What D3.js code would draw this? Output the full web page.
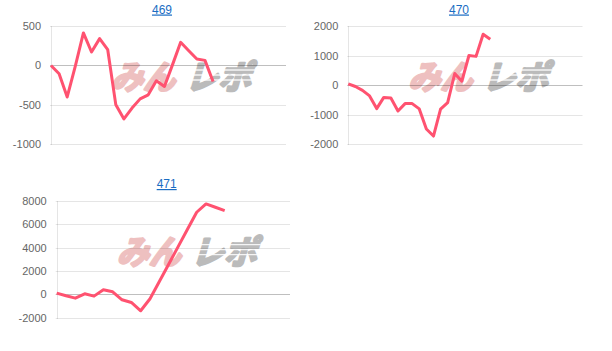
<!DOCTYPE html>
<html><head><meta charset="utf-8">
<script src="https://cdn.jsdelivr.net/npm/d3@7"></script>
<style>html,body{margin:0;padding:0;background:#fff;}svg{display:block;}</style>
</head><body>
<svg id="c" width="612" height="351"></svg>
<script>
// ---- data ----
const titles = ["469", "470", "471"];
const categoryCounts = [30, 34, 26];
const series469 = [0, -106, -400, -10, 412, 170, 340, 200, -500, -678, -540, -424, -373, -195, -267, 10, 293, 187, 81, 64, -204];
const series470 = [40, -50, -180, -370, -800, -420, -440, -880, -630, -630, -810, -1490, -1730, -820, -600, 390, 130, 1000, 970, 1720, 1550];
const series471 = [100, -128, -327, 43, -156, 384, 213, -469, -697, -1408, -384, 1095, 2575, 4054, 5534, 7013, 7724, 7440, 7155];
const ticks469 = [500, 0, -500, -1000];
const ticks470 = [2000, 1000, 0, -1000, -2000];
const ticks471 = [8000, 6000, 4000, 2000, 0, -2000];

// ---- layout ----
const panels = [
  {title: titles[0], n: categoryCounts[0], values: series469, ticks: ticks469, x0: 51, x1: 286, y0: 26, y1: 144.3, tx: 162, ty: 13.5},
  {title: titles[1], n: categoryCounts[1], values: series470, ticks: ticks470, x0: 348.3, x1: 582.5, y0: 26, y1: 144, tx: 459, ty: 13.5},
  {title: titles[2], n: categoryCounts[2], values: series471, ticks: ticks471, x0: 56.7, x1: 290, y0: 200.7, y1: 317.7, tx: 166.7, ty: 188}
];

const svg = d3.select("#c");
const font = "'Liberation Sans', Arial, Helvetica, sans-serif";

panels.forEach(p => {
  const g = svg.append("g");
  const x = d3.scaleLinear().domain([0, p.n - 1]).range([p.x0, p.x1]);
  const y = d3.scaleLinear().domain([d3.min(p.ticks), d3.max(p.ticks)]).range([p.y1, p.y0]);

  // watermark
  const wm = g.append("g").attr("transform", `translate(${p.x0 + 54},${p.y0 + 63})`);
  wm.append("text").attr("x", 6).attr("y", 0)
    .attr("textLength", 64).attr("lengthAdjust", "spacingAndGlyphs")
    .attr("transform", "skewX(-16)")
    .style("font-family", "'Noto Sans CJK JP', sans-serif").style("font-weight", 700)
    .style("font-size", "33px").attr("fill", "#eec0c0")
    .attr("stroke", "#eec0c0").attr("stroke-width", 2.6).attr("stroke-linejoin", "round").text("みん");
  wm.append("text").attr("x", 80).attr("y", 0)
    .attr("textLength", 66).attr("lengthAdjust", "spacingAndGlyphs")
    .attr("transform", "skewX(-16)")
    .style("font-family", "'Noto Sans CJK JP', sans-serif").style("font-weight", 700)
    .style("font-size", "33px").attr("fill", "#bbbbbb")
    .attr("stroke", "#bbbbbb").attr("stroke-width", 2.6).attr("stroke-linejoin", "round").text("レポ");
  // speed lines over grey part
  [-19, -14, -9].forEach(d => {
    wm.append("line").attr("x1", 76).attr("x2", 150).attr("y1", d).attr("y2", d)
      .attr("stroke", "#fff").attr("stroke-width", 1.3).attr("opacity", 0.85);
  });

  // grid
  const yAxis = d3.axisLeft(y).tickValues(p.ticks).tickSize(0).tickPadding(10)
    .tickFormat(d => String(d));
  const ax = g.append("g").attr("transform", `translate(${p.x0},0)`).call(yAxis);
  ax.select(".domain").remove();
  ax.selectAll("text").style("font-family", font).style("font-size", "11px").attr("fill", "#666");
  g.selectAll("line.grid").data(p.ticks).join("line").attr("class", "grid")
    .attr("x1", p.x0 - 1).attr("x2", p.x1)
    .attr("y1", d => Math.round(y(d)) + 0.5).attr("y2", d => Math.round(y(d)) + 0.5)
    .attr("stroke", d => d === 0 ? "rgba(0,0,0,0.25)" : "rgba(0,0,0,0.1)").attr("stroke-width", 1);
  g.append("line").attr("x1", Math.round(p.x0) + 0.5).attr("x2", Math.round(p.x0) + 0.5)
    .attr("y1", Math.round(y(d3.max(p.ticks)))).attr("y2", Math.round(y(d3.min(p.ticks))) + 1)
    .attr("stroke", "rgba(0,0,0,0.1)");

  // line
  const line = d3.line().x((d, i) => x(i)).y(d => y(d));
  g.append("path").datum(p.values).attr("d", line)
    .attr("fill", "none").attr("stroke", "rgb(255,82,112)").attr("stroke-width", 3)
    .attr("stroke-linejoin", "round").attr("stroke-linecap", "butt");

  // title
  g.append("text").attr("x", p.tx).attr("y", p.ty).attr("text-anchor", "middle")
    .style("font-family", font).style("font-size", "12px").attr("fill", "#1a6dc3")
    .style("text-decoration", "underline").text(p.title);
});
</script>
</body></html>
